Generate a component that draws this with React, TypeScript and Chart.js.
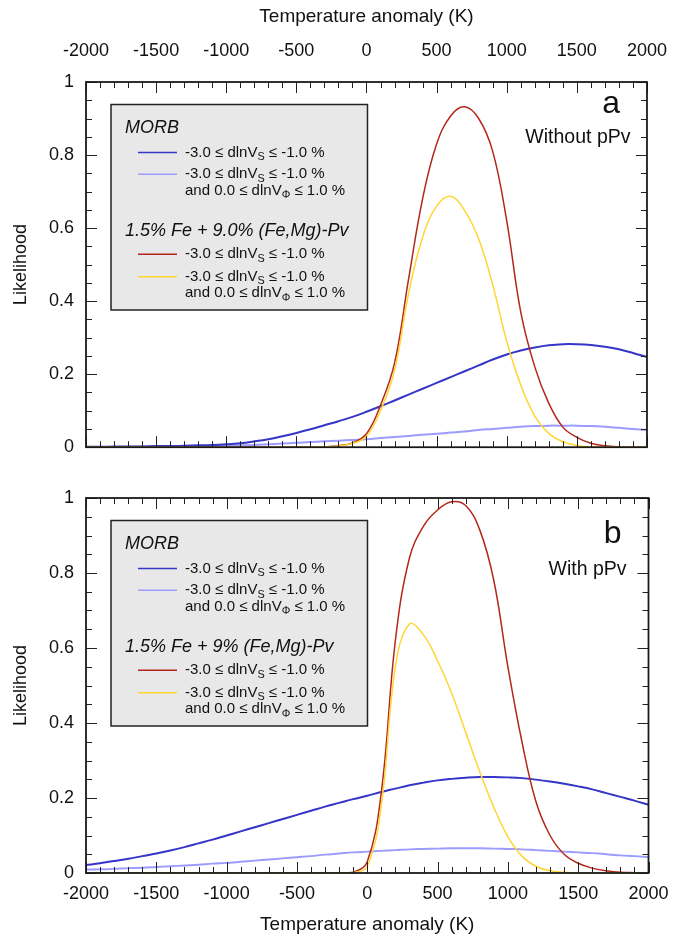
import React, { useEffect, useRef } from "react";
import { Chart, registerables } from "chart.js";
Chart.register(...registerables);

const FONT = '"Liberation Sans", Arial, Helvetica, sans-serif';

// Temperature anomaly grid (K)
const tempK = [
  -2000, -1900, -1800, -1700, -1600, -1500, -1400, -1300, -1200, -1100, -1000,
  -900, -800, -700, -600, -500, -400, -300, -200, -100, 0,
  100, 200, 300, 400, 500, 600, 700, 800, 900, 1000,
  1100, 1200, 1300, 1400, 1500, 1600, 1700, 1800, 1900, 2000,
];

// Panel a (without pPv)
const morbVsA = [
  0.001, 0.001, 0.002, 0.002, 0.002, 0.003, 0.003, 0.004, 0.005, 0.006, 0.008,
  0.011, 0.016, 0.022, 0.030, 0.039, 0.049, 0.060, 0.071, 0.083, 0.097,
  0.112, 0.128, 0.144, 0.160, 0.176, 0.192, 0.208, 0.224, 0.240, 0.254,
  0.265, 0.273, 0.279, 0.282, 0.282, 0.280, 0.275, 0.268, 0.258, 0.247,
];
const morbVsPhiA = [
  0.000, 0.000, 0.000, 0.001, 0.001, 0.001, 0.001, 0.002, 0.002, 0.003, 0.004,
  0.005, 0.006, 0.008, 0.010, 0.012, 0.014, 0.016, 0.018, 0.020, 0.022,
  0.025, 0.028, 0.031, 0.034, 0.037, 0.040, 0.043, 0.047, 0.050, 0.053,
  0.056, 0.058, 0.059, 0.059, 0.059, 0.058, 0.056, 0.053, 0.050, 0.047,
];
const pvVsA = [
  0, 0, 0, 0, 0, 0, 0, 0, 0, 0, 0,
  0, 0, 0, 0, 0, 0, 0.001, 0.004, 0.012, 0.037,
  0.115, 0.23, 0.46, 0.68, 0.83, 0.907, 0.932, 0.90, 0.81, 0.62,
  0.37, 0.22, 0.12, 0.055, 0.027, 0.011, 0.004, 0.001, 0, 0,
];
const pvVsPhiA = [
  0, 0, 0, 0, 0, 0, 0, 0, 0, 0, 0,
  0, 0, 0, 0, 0, 0, 0.001, 0.003, 0.010, 0.030,
  0.100, 0.21, 0.42, 0.575, 0.66, 0.687, 0.648, 0.57, 0.445, 0.29,
  0.17, 0.085, 0.038, 0.015, 0.005, 0.001, 0, 0, 0, 0,
];

// Panel b (with pPv)
const morbVsB = [
  0.021, 0.026, 0.032, 0.038, 0.045, 0.052, 0.060, 0.069, 0.079, 0.089, 0.100,
  0.111, 0.122, 0.133, 0.144, 0.155, 0.166, 0.177, 0.187, 0.197, 0.206,
  0.216, 0.225, 0.234, 0.241, 0.247, 0.251, 0.254, 0.256, 0.256, 0.255,
  0.253, 0.249, 0.244, 0.238, 0.231, 0.223, 0.213, 0.203, 0.193, 0.182,
];
const morbVsPhiB = [
  0.009, 0.010, 0.011, 0.013, 0.014, 0.016, 0.018, 0.020, 0.022, 0.025, 0.027,
  0.030, 0.033, 0.036, 0.039, 0.042, 0.045, 0.049, 0.052, 0.055, 0.057,
  0.059, 0.061, 0.063, 0.064, 0.065, 0.066, 0.066, 0.066, 0.065, 0.064,
  0.063, 0.061, 0.059, 0.057, 0.055, 0.053, 0.050, 0.047, 0.045, 0.042,
];
const pvVsB = [
  0, 0, 0, 0, 0, 0, 0, 0, 0, 0, 0,
  0, 0, 0, 0, 0, 0, 0, 0, 0.002, 0.03,
  0.215, 0.62, 0.84, 0.925, 0.968, 0.99, 0.98, 0.915, 0.78, 0.55,
  0.35, 0.19, 0.10, 0.05, 0.026, 0.013, 0.006, 0.002, 0.001, 0,
];
const pvVsPhiB = [
  0, 0, 0, 0, 0, 0, 0, 0, 0, 0, 0,
  0, 0, 0, 0, 0, 0, 0, 0, 0.001, 0.018,
  0.18, 0.55, 0.664, 0.635, 0.566, 0.48, 0.375, 0.27, 0.175, 0.097,
  0.045, 0.018, 0.006, 0.002, 0, 0, 0, 0, 0, 0,
];

const COLORS = {
  morbVs: "#3535c8",
  morbVsPhi: "#9c9cff",
  pvVs: "#b3281a",
  pvVsPhi: "#ffd633",
};

const AXIS_TITLE = "Temperature anomaly (K)";
const Y_TITLE = "Likelihood";
const LEGEND_LINE1: [string, boolean][] = [["-3.0 ≤ dlnV", false], ["S", true], [" ≤ -1.0 %", false]];
const LEGEND_LINE2: [string, boolean][] = [["and 0.0 ≤ dlnV", false], ["Φ", true], [" ≤ 1.0 %", false]];

type PanelSpec = {
  key: string;
  letter: string;
  note: string;
  heading2: string;
  series: { morbVs: number[]; morbVsPhi: number[]; pvVs: number[]; pvVsPhi: number[] };
  xPos: "top" | "bottom";
  letterDy: number;
  noteDy: number;
  noteDx: number;
};

const panels: PanelSpec[] = [
  {
    key: "a",
    letter: "a",
    note: "Without pPv",
    heading2: "1.5% Fe + 9.0% (Fe,Mg)-Pv",
    series: { morbVs: morbVsA, morbVsPhi: morbVsPhiA, pvVs: pvVsA, pvVsPhi: pvVsPhiA },
    xPos: "top",
    letterDy: 31,
    noteDy: 61,
    noteDx: 16.5,
  },
  {
    key: "b",
    letter: "b",
    note: "With pPv",
    heading2: "1.5% Fe + 9% (Fe,Mg)-Pv",
    series: { morbVs: morbVsB, morbVsPhi: morbVsPhiB, pvVs: pvVsB, pvVsPhi: pvVsPhiB },
    xPos: "bottom",
    letterDy: 45,
    noteDy: 77,
    noteDx: 22,
  },
];

function drawRich(ctx: CanvasRenderingContext2D, x: number, y: number, parts: [string, boolean][], size: number) {
  let cx = x;
  for (const [t, sub] of parts) {
    const s = sub ? size * 0.72 : size;
    ctx.font = `${s}px ${FONT}`;
    ctx.fillText(t, cx, sub ? y + size * 0.3 : y);
    cx += ctx.measureText(t).width;
  }
}

const decoPlugin = {
  id: "deco",
  afterDatasetsDraw(chart: any, _args: any, opts: any) {
    const { ctx, chartArea: a, scales } = chart;
    const xs = scales.x;
    const ys = scales.y;
    ctx.save();
    // tick marks (inside, all four sides)
    ctx.strokeStyle = "#222";
    ctx.lineWidth = 1;
    ctx.beginPath();
    for (let t = -2000; t <= 2000; t += 100) {
      const px = Math.round(xs.getPixelForValue(t)) + 0.5;
      const len = t % 500 === 0 ? 11 : 6;
      ctx.moveTo(px, a.bottom);
      ctx.lineTo(px, a.bottom - len);
      ctx.moveTo(px, a.top);
      ctx.lineTo(px, a.top + len);
    }
    for (let i = 0; i <= 20; i++) {
      const v = i * 0.05;
      const py = Math.round(ys.getPixelForValue(v)) + 0.5;
      const len = i % 4 === 0 ? 11 : 6;
      ctx.moveTo(a.left, py);
      ctx.lineTo(a.left + len, py);
      ctx.moveTo(a.right, py);
      ctx.lineTo(a.right - len, py);
    }
    ctx.stroke();
    // frame
    ctx.lineWidth = 1.8;
    ctx.strokeStyle = "#1a1a1a";
    ctx.strokeRect(a.left, a.top, a.right - a.left, a.bottom - a.top);

    // legend box
    const bx = a.left + 25;
    const by = a.top + 22.5;
    ctx.fillStyle = "#e8e8e8";
    ctx.fillRect(bx, by, 256.5, 205.5);
    ctx.lineWidth = 1.5;
    ctx.strokeStyle = "#222";
    ctx.strokeRect(bx, by, 256.5, 205.5);

    const ds = chart.data.datasets;
    const find = (k: string) => ds.find((d: any) => d.key === k);
    ctx.fillStyle = "#111";
    ctx.textBaseline = "middle";
    ctx.textAlign = "left";
    ctx.font = `italic 18px ${FONT}`;
    ctx.fillText("MORB", a.left + 39, a.top + 46);
    ctx.fillText(opts.heading2, a.left + 39, a.top + 149);

    const rows: [string, number, boolean][] = [
      ["morbVs", 70.5, false],
      ["morbVsPhi", 92.3, true],
      ["pvVs", 172.3, false],
      ["pvVsPhi", 194.7, true],
    ];
    for (const [k, dy, two] of rows) {
      const d = find(k);
      const y = a.top + dy;
      ctx.strokeStyle = d.borderColor;
      ctx.lineWidth = 1.5;
      ctx.beginPath();
      ctx.moveTo(a.left + 52, y);
      ctx.lineTo(a.left + 91, y);
      ctx.stroke();
      ctx.fillStyle = "#111";
      drawRich(ctx, a.left + 99, y, LEGEND_LINE1, 15);
      if (two) drawRich(ctx, a.left + 99, y + 16.4, LEGEND_LINE2, 15);
    }

    // panel letter and note
    ctx.textAlign = "right";
    ctx.textBaseline = "alphabetic";
    ctx.fillStyle = "#111";
    ctx.font = `32px ${FONT}`;
    ctx.fillText(opts.letter, a.right - 27, a.top + opts.letterDy);
    ctx.font = `19.5px ${FONT}`;
    ctx.fillText(opts.note, a.right - opts.noteDx, a.top + opts.noteDy);
    ctx.restore();
  },
};

function Panel({ spec, top }: { spec: PanelSpec; top: number }) {
  const ref = useRef<HTMLCanvasElement | null>(null);
  useEffect(() => {
    if (!ref.current) return;
    const mk = (arr: number[]) => tempK.map((t, i) => ({ x: t, y: arr[i] }));
    const isTop = spec.xPos === "top";
    const chart = new Chart(ref.current, {
      type: "line",
      data: {
        datasets: [
          { key: "pvVsPhi", data: mk(spec.series.pvVsPhi), borderColor: COLORS.pvVsPhi, borderWidth: 1.5 },
          { key: "pvVs", data: mk(spec.series.pvVs), borderColor: COLORS.pvVs, borderWidth: 1.5 },
          { key: "morbVs", data: mk(spec.series.morbVs), borderColor: COLORS.morbVs, borderWidth: 2 },
          { key: "morbVsPhi", data: mk(spec.series.morbVsPhi), borderColor: COLORS.morbVsPhi, borderWidth: 2 },
        ].map((d: any) => ({ ...d, pointRadius: 0, fill: false, tension: 0.4 })),
      } as any,
      options: {
        responsive: false,
        animation: false,
        events: [],
        layout: {
          padding: { left: 0, right: 38.5, top: isTop ? 0 : 28, bottom: isTop ? 12 : 0 },
        },
        plugins: {
          legend: { display: false },
          tooltip: { enabled: false },
          deco: { letter: spec.letter, note: spec.note, heading2: spec.heading2, letterDy: spec.letterDy, noteDy: spec.noteDy, noteDx: spec.noteDx },
        } as any,
        scales: {
          x: {
            type: "linear",
            position: spec.xPos,
            min: -2000,
            max: 2000,
            grid: { display: false, drawTicks: false },
            border: { display: false },
            ticks: {
              stepSize: 500,
              autoSkip: false,
              maxRotation: 0,
              color: "#111",
              padding: isTop ? 20 : 10,
              font: { family: FONT, size: 18 },
              callback: (v: any) => String(v),
            },
            title: {
              display: true,
              text: AXIS_TITLE,
              color: "#111",
              font: { family: FONT, size: 19 },
              padding: isTop ? { top: 5, bottom: 0 } : { top: 0, bottom: 4 },
            },
            afterFit: (s: any) => {
              s.height = isTop ? 82 : 67;
            },
          },
          y: {
            min: 0,
            max: 1,
            grid: { display: false, drawTicks: false },
            border: { display: false },
            ticks: {
              stepSize: 0.2,
              color: "#111",
              padding: 12,
              font: { family: FONT, size: 18 },
              callback: (v: any) => String(Math.round(Number(v) * 10) / 10),
            },
            title: {
              display: true,
              text: Y_TITLE,
              color: "#111",
              font: { family: FONT, size: 18 },
              padding: { top: 10, bottom: 0 },
            },
            afterFit: (s: any) => {
              s.width = 86;
            },
          },
        },
      } as any,
      plugins: [decoPlugin],
    });
    return () => chart.destroy();
  }, [spec]);
  return (
    <div style={{ position: "absolute", left: 0, top, width: 687, height: 470 }}>
      <canvas ref={ref} width={687} height={470} style={{ display: "block" }} />
    </div>
  );
}

export default function App() {
  return (
    <div style={{ position: "absolute", left: 0, top: 0, width: 687, height: 940, background: "#fff", overflow: "hidden" }}>
      <Panel spec={panels[0]} top={0} />
      <Panel spec={panels[1]} top={470} />
    </div>
  );
}
